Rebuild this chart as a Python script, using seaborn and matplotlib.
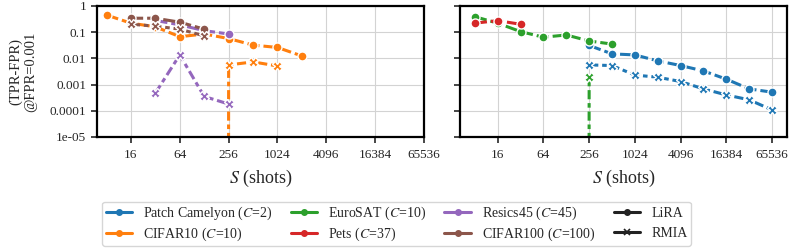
import matplotlib
matplotlib.use("Agg")
import matplotlib.pyplot as plt
from matplotlib.lines import Line2D
from matplotlib.ticker import FuncFormatter, NullLocator
import numpy as np
import pandas as pd
import seaborn as sns

# ---- data (TPR-FPR at FPR=0.001) ----
nan = np.nan

# left panel
cifar10_shots = [8, 16, 32, 64, 128, 256, 512, 1024, 2048]
cifar10_lira = [0.45, 0.22, 0.16, 0.067, 0.085, 0.057, 0.032, 0.026, 0.0123]
cifar10_rmia = [0.0, 0.0, 0.0, 0.0, 0.0, 0.0056, 0.0073, 0.0051, nan]

resics_shots = [32, 64, 128, 256]
resics_lira = [0.28, 0.19, 0.114, 0.085]
resics_rmia = [0.00047, 0.0135, 0.00035, 0.00018]

cifar100_shots = [16, 32, 64, 128]
cifar100_lira = [0.34, 0.34, 0.24, 0.13]
cifar100_rmia = [0.2, 0.17, 0.13, 0.072]

# right panel
pcam_shots = [256, 512, 1024, 2048, 4096, 8192, 16384, 32768, 65536]
pcam_lira = [0.031, 0.0148, 0.0135, 0.0080, 0.0053, 0.0033, 0.0016, 0.00068, 0.00051]
pcam_rmia = [0.0056, 0.0053, 0.0023, 0.0019, 0.0013, 0.00068, 0.0004, 0.00026, 0.000107]

eurosat_shots = [8, 16, 32, 64, 128, 256, 512]
eurosat_lira = [0.39, 0.22, 0.105, 0.064, 0.078, 0.046, 0.035]
eurosat_rmia = [0.0, 0.0, 0.0, 0.0, 0.0, 0.0019, nan]

pets_shots = [8, 16, 32]
pets_lira = [0.22, 0.275, 0.2]
pets_rmia = [0.0, 0.0, 0.0]

datasets = ["Patch Camelyon", "CIFAR10", "EuroSAT", "Pets", "Resics45", "CIFAR100"]
classes = [2, 10, 10, 37, 45, 100]
attacks = ["LiRA", "RMIA"]
xticks = [16, 64, 256, 1024, 4096, 16384, 65536]
yticks = [1e-5, 1e-4, 1e-3, 1e-2, 1e-1, 1]

series = {
    "CIFAR10": (0, cifar10_shots, cifar10_lira, cifar10_rmia),
    "Resics45": (0, resics_shots, resics_lira, resics_rmia),
    "CIFAR100": (0, cifar100_shots, cifar100_lira, cifar100_rmia),
    "Patch Camelyon": (1, pcam_shots, pcam_lira, pcam_rmia),
    "EuroSAT": (1, eurosat_shots, eurosat_lira, eurosat_rmia),
    "Pets": (1, pets_shots, pets_lira, pets_rmia),
}

rows = []
for name, (panel, shots, lira, rmia) in series.items():
    for s, a, b in zip(shots, lira, rmia):
        rows.append((panel, name, "LiRA", s, a))
        rows.append((panel, name, "RMIA", s, b))
df = pd.DataFrame(rows, columns=["panel", "dataset", "attack", "shots", "value"])
df = df.dropna()

# ---- style ----
sns.set_style("whitegrid", {
    "axes.edgecolor": "black",
    "grid.color": "#d3d3d3",
    "xtick.bottom": True,
    "ytick.left": True,
})
plt.rcParams["font.family"] = ["Liberation Serif", "DejaVu Serif"]
plt.rcParams["mathtext.fontset"] = "stix"
plt.rcParams["axes.linewidth"] = 1.6
plt.rcParams["xtick.major.size"] = 4
plt.rcParams["ytick.major.size"] = 4
plt.rcParams["xtick.major.width"] = 1.2
plt.rcParams["ytick.major.width"] = 1.2

tab = sns.color_palette("tab10")
palette = {d: tab[i] for i, d in enumerate(datasets)}
markers = {"LiRA": "o", "RMIA": "X"}
dashes = {"LiRA": (4, 1.3), "RMIA": (3, 1.25, 1.5, 1.25)}

fig = plt.figure(figsize=(7.93, 2.48), dpi=100)
ax1 = fig.add_axes([0.122, 0.448, 0.4127, 0.528])
ax2 = fig.add_axes([0.580, 0.448, 0.4124, 0.528])

for i, ax in enumerate([ax1, ax2]):
    ax.set_xscale("log", base=2)
    ax.set_yscale("log")
    sub = df[df.panel == i]
    sns.lineplot(data=sub, x="shots", y="value", hue="dataset", style="attack",
                 hue_order=[d for d in datasets if d in sub.dataset.unique()],
                 palette=palette, markers=markers, dashes=dashes,
                 estimator=None, sort=True, lw=2.2, ms=6.5, mec="white", mew=1.0,
                 legend=False, ax=ax)
    ax.set_xticks(xticks)
    ax.xaxis.set_major_formatter(FuncFormatter(lambda v, p: f"{int(round(v))}"))
    ax.xaxis.set_minor_locator(NullLocator())
    ax.set_yticks(yticks)
    ax.yaxis.set_major_formatter(FuncFormatter(lambda v, p: f"{v:g}"))
    ax.yaxis.set_minor_locator(NullLocator())
    ax.set_ylim(1e-5, 1)
    ax.tick_params(labelsize=9.5)
    ax.tick_params(axis="x", pad=5)
    ax.set_xlabel("$S$ (shots)", fontsize=13, labelpad=5)
    for sp in ax.spines.values():
        sp.set_visible(True)
        sp.set_color("black")

ax1.set_xlim(right=65536)
ax1.set_ylabel("(TPR-FPR)\n@FPR=0.001", fontsize=10.5, labelpad=9)
ax2.set_ylabel("")
ax2.tick_params(labelleft=False)

handles = []
labels = []
for d, c in zip(datasets, classes):
    handles.append(Line2D([], [], color=palette[d], lw=2.2, marker="o", ms=4))
    labels.append(f"{d} ($C$={c})")
handles.append(Line2D([], [], color="#222222", lw=2.2, marker="o", ms=4))
labels.append("LiRA")
handles.append(Line2D([], [], color="#222222", lw=2.2, marker="x", ms=4, mew=1.2,
                      mec="#222222"))
labels.append("RMIA")
leg = fig.legend(handles, labels, loc="lower center", bbox_to_anchor=(0.5, -0.02),
                 ncol=4, fontsize=10, frameon=True, handlelength=1.9,
                 columnspacing=1.3, labelspacing=0.2, borderpad=0.25,
                 edgecolor="#cccccc")
# the plain-text column is shorter than the mathtext ones; even out the rows
cols = leg._legend_handle_box.get_children()
cols[-1].sep += 3.0

fig.savefig("out.png", dpi=100)
